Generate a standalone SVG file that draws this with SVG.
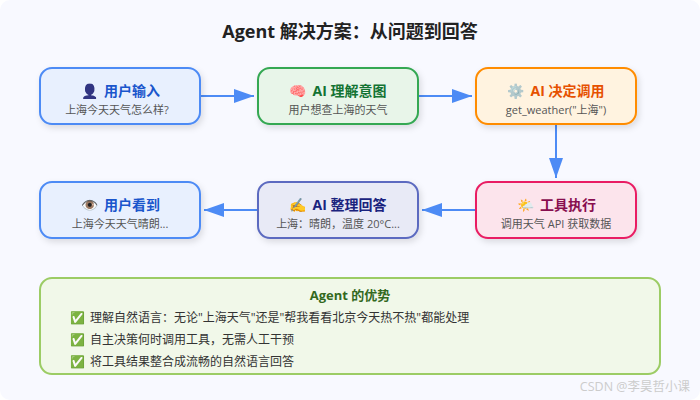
<svg xmlns="http://www.w3.org/2000/svg" width="700" height="400" viewBox="0 0 700 400">
<defs>
<filter id="sh" x="-15%" y="-25%" width="130%" height="160%"><feDropShadow dx="2" dy="3" stdDeviation="3" flood-color="#000" flood-opacity="0.12"/></filter>
<marker id="arr" markerWidth="20" markerHeight="14" refX="20" refY="7" orient="auto" markerUnits="userSpaceOnUse"><path d="M0 0L20 7L0 14Z" fill="#4d8bf5"/></marker>
</defs>
<style>
text{font-family:"Open Sans","Noto Sans CJK SC",sans-serif;text-anchor:middle}
.t{font-size:14px;font-weight:700}
.s{font-size:11px;fill:#555}
.b{filter:url(#sh);stroke-width:2}
.l{font-size:12px;fill:#333;text-anchor:start}
.e{font-family:"Noto Color Emoji","Open Sans",sans-serif;font-size:14px}
.m{font-size:12px}
.k{stroke:#4d8bf5;stroke-width:2;fill:none;marker-end:url(#arr)}
</style>
<rect width="700" height="400" rx="10" fill="#f8f9ff"/>
<text x="350" y="38" font-size="18" font-weight="700" fill="#222">Agent 解决方案：从问题到回答</text>
<g id="connectors">
<path class="k" d="M201 96H254"/>
<path class="k" d="M419 96H472"/>
<path class="k" d="M556 125V178"/>
<path class="k" d="M475 210H422"/>
<path class="k" d="M257 210H204"/>
</g>
<g id="n1"><rect class="b" x="40" y="68" width="160" height="56" rx="12" fill="#e8f0fe" stroke="#4d8bf5"/><text class="e" x="90" y="96" style="filter:brightness(.55) hue-rotate(30deg)">👤</text><text class="t" x="132" y="96" fill="#1a56cc">用户输入</text><text class="s" x="117" y="114">上海今天天气怎么样?</text></g>
<g id="n2"><rect class="b" x="258" y="68" width="160" height="56" rx="12" fill="#e8f5e9" stroke="#34a853"/><text class="e" x="298" y="96" style="filter:saturate(1.6)">🧠</text><text class="t" x="349.500" y="96" fill="#137333">AI 理解意图</text><text class="s" x="338" y="114">用户想查上海的天气</text></g>
<g id="n3"><rect class="b" x="476" y="68" width="160" height="56" rx="12" fill="#fff3e0" stroke="#ff8c00"/><text class="e" x="516" y="96" style="opacity:.6">⚙️</text><text class="t" x="567.500" y="96" fill="#e65100">AI 决定调用</text><text class="s" x="556" y="114">get_weather("上海")</text></g>
<g id="n4"><rect class="b" x="476" y="182" width="160" height="56" rx="12" fill="#fce4ec" stroke="#e91e63"/><text class="e" x="526" y="210">🌤️</text><text class="t" x="568" y="210" fill="#880e4f">工具执行</text><text class="s" x="556" y="228">调用天气 API 获取数据</text></g>
<g id="n5"><rect class="b" x="258" y="182" width="160" height="56" rx="12" fill="#e8eaf6" stroke="#5c6bc0"/><text class="e" x="298" y="210">✍️</text><text class="t" x="349.500" y="210" fill="#1a237e">AI 整理回答</text><text class="s" x="338" y="228">上海：晴朗，温度 20°C...</text></g>
<g id="n6"><rect class="b" x="40" y="182" width="160" height="56" rx="12" fill="#e8f0fe" stroke="#4d8bf5"/><text class="e" x="90" y="210">👁️</text><text class="t" x="132" y="210" fill="#1a56cc">用户看到</text><text class="s" x="120" y="228">上海今天天气晴朗...</text></g>
<g id="advantages">
<rect x="40" y="278" width="620" height="96" rx="12" fill="#f1f8e9" stroke="#9ccc65" stroke-width="2"/>
<text x="350" y="300" font-size="13" font-weight="700" fill="#33691e">Agent 的优势</text>
<text class="e m" x="78" y="322">✅</text><text class="l" x="90" y="322">理解自然语言：无论"上海天气"还是"帮我看看北京今天热不热"都能处理</text>
<text class="e m" x="78" y="344">✅</text><text class="l" x="90" y="344">自主决策何时调用工具，无需人工干预</text>
<text class="e m" x="78" y="366">✅</text><text class="l" x="90" y="366">将工具结果整合成流畅的自然语言回答</text>
</g>
<text x="690" y="391" font-size="12.500" fill="#ccc" style="text-anchor:end">CSDN @李昊哲小课</text>
</svg>
